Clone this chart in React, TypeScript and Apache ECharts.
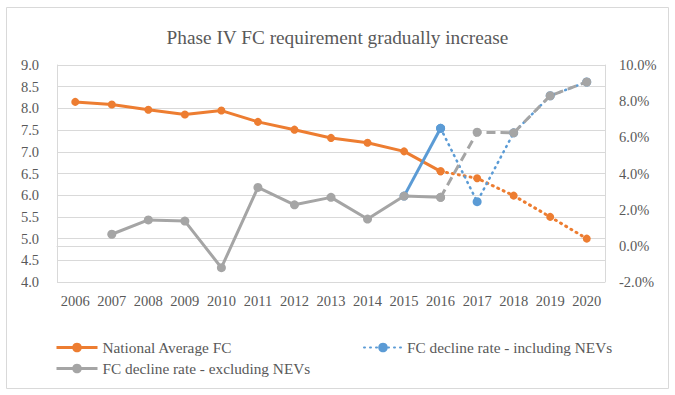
import React, { useEffect, useRef } from "react";
import * as echarts from "echarts";

const years = ["2006", "2007", "2008", "2009", "2010", "2011", "2012", "2013", "2014", "2015", "2016", "2017", "2018", "2019", "2020"];
// National average FC (L/100km), actual through 2016 then target path
const nationalAvgActual = [8.15, 8.09, 7.97, 7.86, 7.95, 7.69, 7.51, 7.32, 7.21, 7.01, 6.55, null, null, null, null];
const nationalAvgTarget = [null, null, null, null, null, null, null, null, null, null, 6.55, 6.39, 5.99, 5.5, 5.0];
// FC decline rate (%) excluding NEVs
const exclActual = [null, 0.64, 1.43, 1.37, -1.21, 3.23, 2.27, 2.68, 1.48, 2.75, 2.68, null, null, null, null];
const exclTarget = [null, null, null, null, null, null, null, null, null, null, 2.68, 6.28, 6.25, 8.3, 9.06];
// FC decline rate (%) including NEVs
const inclActual = [null, null, null, null, null, null, null, null, null, 2.75, 6.5, null, null, null, null];
const inclTarget = [null, null, null, null, null, null, null, null, null, null, 6.5, 2.44, 6.25, 8.3, 9.06];

const NAME_NAT = "National Average FC";
const NAME_INCL = "FC decline rate - including NEVs";
const NAME_EXCL = "FC decline rate - excluding NEVs";

const ORANGE = "#ED7D31";
const BLUE = "#5B9BD5";
const GRAY = "#A5A5A5";
const TEXT = "#595959";
const GRID = "#D9D9D9";
const FONT = "Liberation Serif";

export default function App() {
  const ref = useRef<HTMLDivElement>(null);
  useEffect(() => {
    if (!ref.current) return;
    const chart = echarts.init(ref.current, undefined, { renderer: "svg" });
    const dotted = { type: [1, 5] as number[], cap: "round" as const };
    const dashed = { type: [9, 5] as number[] };
    const legendBase = {
      itemWidth: 41,
      itemHeight: 12,
      textStyle: { color: TEXT, fontFamily: FONT, fontSize: 15.3 },
      padding: 0,
    };
    chart.setOption({
      animation: false,
      backgroundColor: "#fff",
      title: {
        text: "Phase IV FC requirement gradually increase",
        left: "center",
        top: 23,
        textStyle: { color: TEXT, fontFamily: FONT, fontSize: 19.3, fontWeight: "normal" },
      },
      graphic: [
        {
          type: "rect",
          shape: { x: 6.5, y: 7.5, width: 662, height: 381 },
          style: { fill: "none", stroke: GRID, lineWidth: 1 },
          silent: true,
        },
      ],
      legend: [
        { ...legendBase, left: 55, top: 340, data: [{ name: NAME_NAT, itemStyle: { color: ORANGE }, lineStyle: { color: ORANGE, width: 3 } }] },
        { ...legendBase, itemWidth: 38, left: 363, top: 340, data: [{ name: NAME_INCL, itemStyle: { color: BLUE }, lineStyle: { color: BLUE, width: 2, ...dotted } }] },
        { ...legendBase, left: 55, top: 361, data: [{ name: NAME_EXCL, itemStyle: { color: GRAY }, lineStyle: { color: GRAY, width: 3 } }] },
      ],
      grid: { left: 57, right: 70, top: 65, bottom: 113, containLabel: false },
      xAxis: {
        type: "category",
        data: years,
        boundaryGap: true,
        axisLine: { show: true, lineStyle: { color: GRID } },
        axisTick: { show: false },
        axisLabel: { color: TEXT, fontFamily: FONT, fontSize: 14.5, margin: 11, interval: 0 },
      },
      yAxis: [
        {
          type: "value",
          min: 4,
          max: 9,
          interval: 0.5,
          axisLine: { show: true, lineStyle: { color: GRID } },
          axisTick: { show: false },
          splitLine: { show: true, lineStyle: { color: GRID } },
          axisLabel: { color: TEXT, fontFamily: FONT, fontSize: 14.5, margin: 18, formatter: (v: number) => v.toFixed(1) },
        },
        {
          type: "value",
          min: -2,
          max: 10,
          interval: 2,
          axisLine: { show: true, lineStyle: { color: GRID } },
          axisTick: { show: false },
          splitLine: { show: false },
          axisLabel: { color: TEXT, fontFamily: FONT, fontSize: 14.5, margin: 14, formatter: (v: number) => v.toFixed(1) + "%" },
        },
      ],
      series: [
        {
          name: NAME_NAT, type: "line", yAxisIndex: 0, data: nationalAvgActual,
          symbol: "circle", symbolSize: 8, itemStyle: { color: ORANGE },
          lineStyle: { color: ORANGE, width: 3 }, z: 2,
        },
        {
          name: NAME_NAT + " (target)", type: "line", yAxisIndex: 0, data: nationalAvgTarget,
          symbol: "circle", symbolSize: 8, itemStyle: { color: ORANGE },
          lineStyle: { color: ORANGE, width: 3, ...dotted }, z: 2,
        },
        {
          name: NAME_INCL, type: "line", yAxisIndex: 1, data: inclActual,
          symbol: "circle", symbolSize: 9, itemStyle: { color: BLUE },
          lineStyle: { color: BLUE, width: 3 }, z: 3,
        },
        {
          name: NAME_INCL + " (target)", type: "line", yAxisIndex: 1, data: inclTarget,
          symbol: "circle", symbolSize: 9, itemStyle: { color: BLUE },
          lineStyle: { color: BLUE, width: 2.5, ...dotted }, z: 3,
        },
        {
          name: NAME_EXCL, type: "line", yAxisIndex: 1, data: exclActual,
          symbol: "circle", symbolSize: 9, itemStyle: { color: GRAY },
          lineStyle: { color: GRAY, width: 3 }, z: 4,
        },
        {
          name: NAME_EXCL + " (target)", type: "line", yAxisIndex: 1, data: exclTarget,
          symbol: "circle", symbolSize: 9, itemStyle: { color: GRAY },
          lineStyle: { color: GRAY, width: 3, ...dashed }, z: 4,
        },
      ],
    });
    return () => chart.dispose();
  }, []);
  return <div ref={ref} style={{ position: "fixed", left: 0, top: 0, width: 675, height: 395 }} />;
}
